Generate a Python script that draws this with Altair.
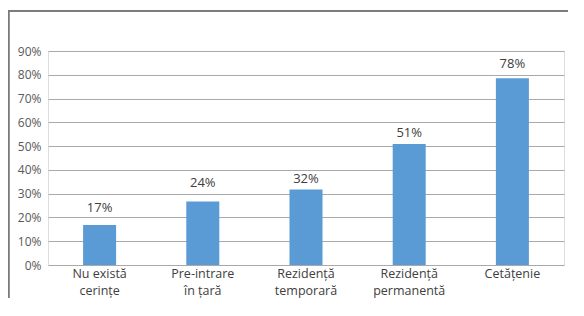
import altair as alt
import pandas as pd

categories = ["Nu există|cerințe", "Pre-intrare|în țară", "Rezidență|temporară",
              "Rezidență|permanentă", "Cetățenie"]
bar_values = [0.168, 0.267, 0.318, 0.509, 0.785]
label_texts = ["17%", "24%", "32%", "51%", "78%"]
label_pos = [0.239, 0.343, 0.361, 0.557, 0.845]
y_ticks = [0, 0.1, 0.2, 0.3, 0.4, 0.5, 0.6, 0.7, 0.8, 0.9]

df = pd.DataFrame({"cat": categories, "val": bar_values,
                   "lab": label_texts, "lpos": label_pos})

FONT = "Open Sans"
yscale = alt.Scale(domain=[0, 0.9], nice=False)
xscale = alt.Scale(paddingInner=0.68, paddingOuter=0.34)
xaxis = alt.Axis(title=None, labelAngle=0, ticks=False, domain=False,
                 labelExpr="split(datum.label, '|')",
                 labelLineHeight=17, labelPadding=2,
                 labelFontSize=12.5, labelColor="#404040", labelFont=FONT)
yaxis = alt.Axis(title=None, values=y_ticks, format=".0%",
                 domain=False, ticks=False, grid=True,
                 gridColor="#a9a9a9", gridWidth=1, labelOverlap=False,
                 labelPadding=7, labelFontSize=12,
                 labelColor="#595959", labelFont=FONT)

bars = alt.Chart(df).mark_bar(color="#5B9BD5").encode(
    x=alt.X("cat:N", sort=categories, scale=xscale, axis=xaxis),
    y=alt.Y("val:Q", scale=yscale, axis=yaxis),
)

labels = alt.Chart(df).mark_text(baseline="middle", fontSize=13,
                                 color="#404040", font=FONT).encode(
    x=alt.X("cat:N", sort=categories, scale=xscale, axis=xaxis),
    y=alt.Y("lpos:Q", scale=yscale, axis=yaxis),
    text="lab:N",
)

border_top = alt.Chart(df).mark_rule(color="#7a7a7a", strokeWidth=1.5).encode(
    x=alt.value(-39.5), x2=alt.value(521), y=alt.value(-40.3))
border_left = alt.Chart(df).mark_rule(color="#7a7a7a", strokeWidth=1.5).encode(
    x=alt.value(-39.5), y=alt.value(-40.3), y2=alt.value(247))

chart = alt.layer(bars, labels, border_top, border_left).properties(
    width=516, height=214,
    autosize=alt.AutoSizeParams(type="none"),
    padding={"left": 40, "top": 43, "right": 4, "bottom": 33},
).configure_view(strokeWidth=0).configure(background="white")

chart.save("out.html", embed_options={"renderer": "svg", "actions": False})
